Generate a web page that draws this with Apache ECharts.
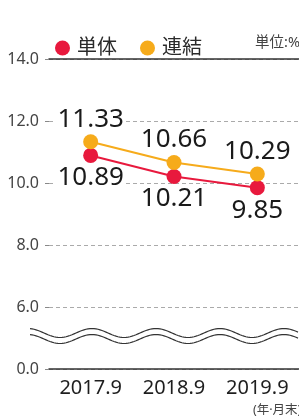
<!DOCTYPE html>
<html>
<head>
<meta charset="utf-8">
<script src="https://cdn.jsdelivr.net/npm/echarts@6/dist/echarts.min.js"></script>
<style>
  html, body { margin: 0; padding: 0; background: #fff; }
  #chart { width: 299px; height: 419px; }
</style>
</head>
<body>
<div id="chart"></div>
<script>
const categories = ['2017.9', '2018.9', '2019.9'];
const tantai = [10.89, 10.21, 9.85];     // 単体
const renketsu = [11.33, 10.66, 10.29];  // 連結
// broken axis: the lowest tick (4) is shown as 0.0
const yTicks = [4, 6, 8, 10, 12, 14];
const yTickLabels = ['0.0', '6.0', '8.0', '10.0', '12.0', '14.0'];

const FONT = "'Noto Sans', 'Noto Sans CJK JP', sans-serif";
const RED = '#e8193d';
const ORANGE = '#f6ab1b';

let myChart = echarts.init(document.getElementById('chart'));

function labelOf(value) {
  let i = yTicks.indexOf(value);
  return i >= 0 ? yTickLabels[i] : '';
}

let option = {
  animation: false,
  textStyle: { fontFamily: FONT },
  legend: {
    left: 50,
    top: 33,
    itemWidth: 15,
    itemHeight: 15,
    itemGap: 23,
    icon: 'circle',
    textStyle: { fontSize: 20, color: '#2a2a2a', fontFamily: FONT, padding: [0, 0, 0, 2] },
    data: ['単体', '連結']
  },
  grid: {
    top: 59,
    bottom: 50,
    left: 49,
    right: -2
  },
  xAxis: [
    {
      type: 'category',
      data: categories,
      axisLine: { lineStyle: { color: '#333', width: 1.5 } },
      axisTick: { show: false },
      axisLabel: { fontSize: 20, color: '#1e1e1e', margin: 9, fontFamily: FONT }
    },
    {
      type: 'category',
      position: 'top',
      data: categories,
      axisLine: { lineStyle: { color: '#333', width: 1.5 } },
      axisTick: { show: false },
      axisLabel: { show: false }
    }
  ],
  yAxis: {
    type: 'value',
    min: yTicks[0],
    max: yTicks[yTicks.length - 1],
    interval: 2,
    axisLine: { show: false },
    axisTick: { show: true, length: 4, lineStyle: { color: '#888' } },
    axisLabel: {
      margin: 10,
      fontSize: 16,
      color: '#444',
      fontFamily: FONT,
      formatter: labelOf
    },
    splitLine: { lineStyle: { type: [4, 3], color: '#aaa' } }
  },
  series: [
    {
      name: '単体',
      type: 'line',
      data: tantai,
      symbol: 'circle',
      symbolSize: 15,
      lineStyle: { color: RED, width: 2 },
      itemStyle: { color: RED },
      z: 3,
      label: {
        show: true,
        position: 'bottom',
        distance: 3,
        fontSize: 26,
        color: '#1a1a1a',
        fontFamily: FONT,
        backgroundColor: '#fff',
        lineHeight: 24,
        padding: [0, 2],
        formatter: p => p.value.toFixed(2)
      }
    },
    {
      name: '連結',
      type: 'line',
      data: renketsu,
      symbol: 'circle',
      symbolSize: 15,
      lineStyle: { color: ORANGE, width: 2 },
      itemStyle: { color: ORANGE },
      z: 3,
      label: {
        show: true,
        position: 'top',
        distance: 3,
        fontSize: 26,
        color: '#1a1a1a',
        fontFamily: FONT,
        backgroundColor: '#fff',
        lineHeight: 24,
        padding: [0, 2],
        formatter: p => p.value.toFixed(2)
      }
    }
  ]
};
myChart.setOption(option);

// wavy break marks between 0.0 and 6.0
let mid = myChart.convertToPixel({ yAxisIndex: 0 }, 5) - 2;
function wave(offset) {
  let pts = [];
  for (let x = 30; x <= 299; x += 2) {
    pts.push([x, mid + offset - 4.5 * Math.cos(2 * Math.PI * (x - 28) / 64)]);
  }
  return {
    type: 'polyline',
    shape: { points: pts },
    style: { stroke: '#333', lineWidth: 1.2, fill: null },
    z: 10
  };
}

myChart.setOption({
  graphic: [
    wave(-3),
    wave(3),
    {
      type: 'text',
      left: 255,
      top: 36,
      style: { text: '単位:%', fontSize: 14.5, fill: '#444', fontFamily: FONT }
    },
    {
      type: 'text',
      left: 253,
      top: 404,
      style: { text: '(年·月末)', fontSize: 12.5, fill: '#444', fontFamily: FONT }
    }
  ]
});
</script>
</body>
</html>
